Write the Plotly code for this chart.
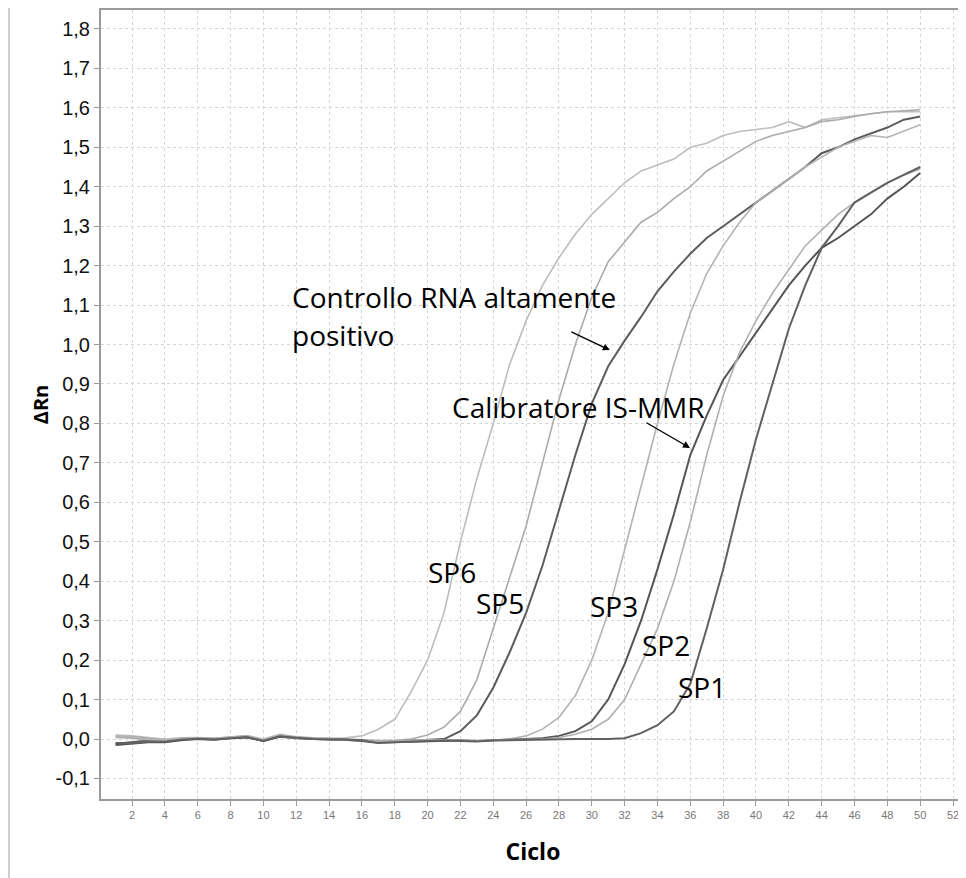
import plotly.graph_objects as go

cycles = list(range(1, 51))

sp6 = [0.01, 0.008, 0.004, 0.0, 0.003, 0.004, 0.002, 0.005, 0.009, 0.0,
       0.012, 0.006, 0.003, 0.002, 0.003,
       0.008, 0.025, 0.05, 0.12, 0.2, 0.32, 0.5, 0.66, 0.80, 0.95,
       1.06, 1.15, 1.22, 1.28, 1.33, 1.37, 1.41, 1.44, 1.455, 1.47,
       1.50, 1.51, 1.53, 1.54, 1.545, 1.55, 1.565, 1.55, 1.57, 1.575,
       1.58, 1.585, 1.59, 1.59, 1.59]

sp5 = [0.005, 0.006, 0.002, -0.003, 0.002, 0.003, 0.001, 0.004, 0.007, -0.002,
       0.01, 0.004, 0.002, 0.001, 0.0, -0.002, -0.004, -0.003, 0.0,
       0.01, 0.03, 0.07, 0.15, 0.28, 0.41, 0.54, 0.70, 0.86, 1.0,
       1.12, 1.21, 1.26, 1.31, 1.335, 1.37, 1.40, 1.44, 1.465, 1.49,
       1.515, 1.53, 1.54, 1.55, 1.565, 1.57, 1.578, 1.585, 1.59, 1.592, 1.595]

controllo = [-0.012, -0.008, -0.004, -0.006, 0.0, 0.002, 0.0, 0.003, 0.006, -0.004,
             0.008, 0.004, 0.001, 0.0, -0.001, -0.003, -0.008, -0.006, -0.004, -0.003,
             0.0,
             0.02, 0.06, 0.13, 0.22, 0.32, 0.44, 0.58, 0.72, 0.85, 0.945,
             1.01, 1.07, 1.135, 1.185, 1.23, 1.27, 1.30, 1.33, 1.36, 1.39,
             1.42, 1.45, 1.485, 1.50, 1.52, 1.535, 1.55, 1.57, 1.578]

sp3 = [0.008, 0.004, 0.0, -0.004, 0.002, 0.003, 0.002, 0.005, 0.008, -0.003,
       0.01, 0.005, 0.002, 0.001, -0.001, -0.004, -0.006, -0.005, -0.003, -0.002,
       -0.002, -0.003, -0.004, -0.003, 0.0,
       0.008, 0.025, 0.055, 0.11, 0.2, 0.32, 0.48, 0.64, 0.80, 0.95,
       1.08, 1.18, 1.25, 1.31, 1.36, 1.39, 1.42, 1.45, 1.475, 1.50,
       1.515, 1.53, 1.525, 1.54, 1.557]

calibratore = [-0.015, -0.012, -0.008, -0.008, -0.003, 0.0, -0.002, 0.002, 0.004, -0.005,
               0.006, 0.002, 0.0, -0.001, -0.002, -0.004, -0.009, -0.008, -0.006, -0.005,
               -0.004, -0.004, -0.005, -0.003, -0.002, 0.0, 0.002,
               0.008, 0.02, 0.045, 0.1, 0.19, 0.30, 0.43, 0.57, 0.72, 0.82,
               0.91, 0.97, 1.03, 1.09, 1.15, 1.20, 1.245, 1.27, 1.30, 1.33,
               1.37, 1.40, 1.435]

sp2 = [0.004, 0.002, -0.002, -0.005, 0.001, 0.002, 0.0, 0.003, 0.006, -0.004,
       0.008, 0.003, 0.001, 0.0, -0.002, -0.004, -0.007, -0.006, -0.004, -0.003,
       -0.003, -0.004, -0.005, -0.003, -0.002, -0.001, 0.0, 0.004,
       0.012, 0.025, 0.05, 0.1, 0.19, 0.28, 0.40, 0.55, 0.72, 0.87,
       0.98, 1.06, 1.13, 1.19, 1.25, 1.29, 1.33, 1.36, 1.385, 1.41,
       1.43, 1.445]

sp1 = [-0.01, -0.01, -0.006, -0.007, -0.002, 0.001, -0.001, 0.002, 0.005, -0.005,
       0.007, 0.003, 0.0, -0.001, -0.002, -0.005, -0.01, -0.008, -0.006, -0.005,
       -0.004, -0.005, -0.006, -0.004, -0.003, -0.002, -0.001, 0.0, 0.0, 0.0,
       0.0, 0.002,
       0.015, 0.035, 0.07, 0.14, 0.28, 0.43, 0.60, 0.76, 0.90, 1.04,
       1.15, 1.245, 1.30, 1.36, 1.385, 1.41, 1.43, 1.45]

series_names = ["SP6", "SP5", "Controllo", "SP3", "Calibratore", "SP2", "SP1"]
series_values = [sp6, sp5, controllo, sp3, calibratore, sp2, sp1]
series_colors = ["#bdbdbd", "#ababab", "#5c5c5c", "#b3b3b3", "#555555", "#b0b0b0", "#606060"]
series_widths = [1.6, 1.6, 2.0, 1.6, 2.0, 1.6, 2.0]

# label texts and their anchor points (cycle, ΔRn)
sp_labels = ["SP6", "SP5", "SP3", "SP2", "SP1"]
sp_label_x = [21.5, 24.4, 31.35, 34.5, 36.7]
sp_label_y = [0.424, 0.345, 0.337, 0.238, 0.131]

y_ticks = [round(-0.1 + 0.1 * i, 1) for i in range(20)]
y_ticktext = ["-0,1", "0,0", "0,1", "0,2", "0,3", "0,4", "0,5", "0,6", "0,7", "0,8",
              "0,9", "1,0", "1,1", "1,2", "1,3", "1,4", "1,5", "1,6", "1,7", "1,8"]
x_ticks = list(range(2, 54, 2))

fig = go.Figure()
for name, vals, col, w in zip(series_names, series_values, series_colors, series_widths):
    fig.add_trace(go.Scatter(x=cycles, y=vals, mode="lines", name=name,
                             line=dict(color=col, width=w), hoverinfo="skip"))

label_font = dict(family="Open Sans", size=28, color="black")
annotations = []
for t, xx, yy in zip(sp_labels, sp_label_x, sp_label_y):
    annotations.append(dict(x=xx, y=yy, text=t, showarrow=False, font=label_font,
                            xanchor="center", yanchor="middle"))

annotations.append(dict(x=11.62, y=1.121, text="Controllo RNA altamente", showarrow=False,
                        font=label_font, xanchor="left", yanchor="middle"))
annotations.append(dict(x=11.62, y=1.024, text="positivo", showarrow=False,
                        font=label_font, xanchor="left", yanchor="middle"))
annotations.append(dict(x=31.1, y=0.986, text="", showarrow=True, arrowhead=2, arrowsize=1,
                        arrowwidth=1.4, arrowcolor="black", ax=-40, ay=-19))
annotations.append(dict(x=21.36, y=0.842, text="Calibratore IS-MMR", showarrow=False,
                        font=label_font, xanchor="left", yanchor="middle"))
annotations.append(dict(x=35.98, y=0.738, text="", showarrow=True, arrowhead=2, arrowsize=1,
                        arrowwidth=1.4, arrowcolor="black", ax=-45, ay=-26))

fig.update_layout(
    width=966, height=878,
    margin=dict(l=93, r=9, t=2, b=87),
    separators=",.",
    plot_bgcolor="white", paper_bgcolor="white",
    showlegend=False,
    annotations=annotations,
    shapes=[dict(type="line", xref="paper", yref="paper", x0=-0.1065, x1=-0.1065,
                 y0=-0.1, y1=1.013, line=dict(color="#cfcfcf", width=2))],
)

fig.update_xaxes(
    range=[0.11, 52.73], tickmode="array", tickvals=x_ticks, automargin=False,
    ticks="outside", ticklen=5, tickcolor="#999999",
    tickfont=dict(family="Liberation Sans Narrow, Liberation Sans", size=11, color="#777777"),
    showline=True, linecolor="#9a9a9a", linewidth=2, mirror=True,
    showgrid=True, gridcolor="#d6d6d6", griddash="dot", gridwidth=1, zeroline=False,
    title=dict(text="<b>Ciclo</b>", font=dict(family="Open Sans", size=23, color="black"), standoff=24),
)
fig.update_yaxes(
    range=[-0.152, 1.848], tickmode="array", tickvals=y_ticks, ticktext=y_ticktext,
    automargin=False,
    ticks="outside", ticklen=5, tickcolor="#999999",
    tickfont=dict(family="Liberation Sans", size=20, color="#111111"),
    showline=True, linecolor="#9a9a9a", linewidth=2, mirror=True,
    showgrid=True, gridcolor="#d6d6d6", griddash="dot", gridwidth=1, zeroline=False,
    title=dict(text="<b>ΔRn</b>", font=dict(family="Open Sans", size=20, color="black"), standoff=2),
)

fig.write_html("out.html")
